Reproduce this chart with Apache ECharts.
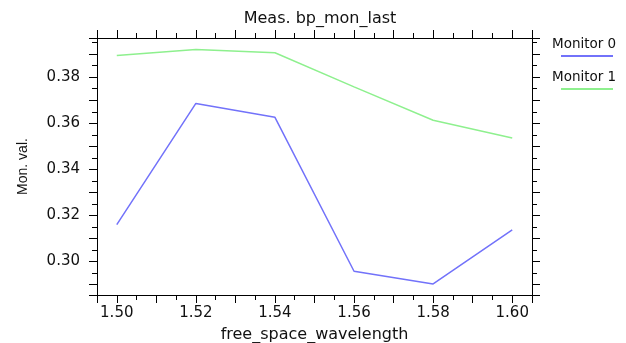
<!DOCTYPE html>
<html>
<head>
<meta charset="utf-8">
<script src="https://cdn.jsdelivr.net/npm/echarts@6/dist/echarts.min.js"></script>
<style>
html, body { margin: 0; padding: 0; background: #fff; }
#chart { width: 626px; height: 343px; }
</style>
</head>
<body>
<div id="chart"></div>
<script>
var wavelengths = [1.50, 1.52, 1.54, 1.56, 1.58, 1.60];
var monitor0 = [0.3160, 0.3686, 0.3626, 0.2958, 0.2903, 0.3138];
var monitor1 = [0.3894, 0.3920, 0.3906, 0.3758, 0.3613, 0.3536];
var seriesNames = ['Monitor 0', 'Monitor 1'];
var seriesColors = ['#7272fa', '#8ef08e'];

var chart = echarts.init(document.getElementById('chart'));

function pairs(xs, ys) {
    var out = [];
    for (var i = 0; i < xs.length; i++) out.push([xs[i], ys[i]]);
    return out;
}
// labels only every 0.02
function evenLabel(v) {
    var k = Math.round(v * 100);
    if (Math.abs(v * 100 - k) > 1e-6 || k % 2 !== 0) return '';
    return v.toFixed(2);
}

var font = 'DejaVu Sans';
var axisCommon = {
    axisLine: { show: true, onZero: false, lineStyle: { color: '#000', width: 1 } },
    axisTick: { show: true, inside: false, length: 8, lineStyle: { color: '#000' } },
    minorTick: { show: true, splitNumber: 2, length: 5, lineStyle: { color: '#000' } },
    splitLine: { show: false }
};

function makeAxis(extra) {
    return Object.assign({}, JSON.parse(JSON.stringify(axisCommon)), extra);
}

var option = {
    animation: false,
    backgroundColor: '#fff',
    title: {
        text: 'Meas. bp_mon_last',
        left: 315, top: 6, textAlign: 'center',
        textStyle: { fontFamily: font, fontSize: 16, fontWeight: 'normal', color: '#111' }
    },
    legend: {
        orient: 'vertical', left: 542, top: 32,
        itemWidth: 0, itemHeight: 0, itemGap: 8, icon: 'none',
        data: seriesNames,
        formatter: function (name) {
            return '{t|' + name + '}\n{s|}{l' + seriesNames.indexOf(name) + '|}';
        },
        textStyle: {
            rich: {
                t: { fontFamily: font, fontSize: 13.5, color: '#111', lineHeight: 16 },
                s: { width: 9, height: 2, lineHeight: 8 },
                l0: { backgroundColor: seriesColors[0], width: 52, height: 2, lineHeight: 8 },
                l1: { backgroundColor: seriesColors[1], width: 52, height: 2, lineHeight: 8 }
            }
        }
    },
    grid: { left: 97, top: 38, right: 94, bottom: 48, outerBoundsMode: 'none', containLabel: false },
    xAxis: [
        makeAxis({
            type: 'value', position: 'bottom', min: 1.495, max: 1.605, splitNumber: 11,
            name: 'free_space_wavelength', nameLocation: 'middle', nameGap: 32,
            nameTextStyle: { fontFamily: font, fontSize: 16, color: '#111' },
            axisLabel: { formatter: evenLabel, fontFamily: font, fontSize: 15, color: '#111', margin: 11,
                showMinLabel: false, showMaxLabel: false }
        }),
        makeAxis({
            type: 'value', position: 'top', min: 1.495, max: 1.605, splitNumber: 11,
            axisLabel: { show: false }
        })
    ],
    yAxis: [
        makeAxis({
            type: 'value', position: 'left', min: 0.2855, max: 0.397, splitNumber: 11,
            name: 'Mon. val.', nameLocation: 'middle', nameGap: 67,
            nameTextStyle: { fontFamily: 'Liberation Sans', fontSize: 14, color: '#111' },
            axisLabel: { formatter: evenLabel, fontFamily: font, fontSize: 15, color: '#111', margin: 17,
                showMinLabel: false, showMaxLabel: false }
        }),
        makeAxis({
            type: 'value', position: 'right', min: 0.2855, max: 0.397, splitNumber: 11,
            axisLabel: { show: false }
        })
    ],
    series: [
        {
            name: seriesNames[0], type: 'line', data: pairs(wavelengths, monitor0),
            showSymbol: false, color: seriesColors[0], lineStyle: { width: 1.5 }
        },
        {
            name: seriesNames[1], type: 'line', data: pairs(wavelengths, monitor1),
            showSymbol: false, color: seriesColors[1], lineStyle: { width: 1.5 }
        }
    ]
};
chart.setOption(option);
</script>
</body>
</html>
